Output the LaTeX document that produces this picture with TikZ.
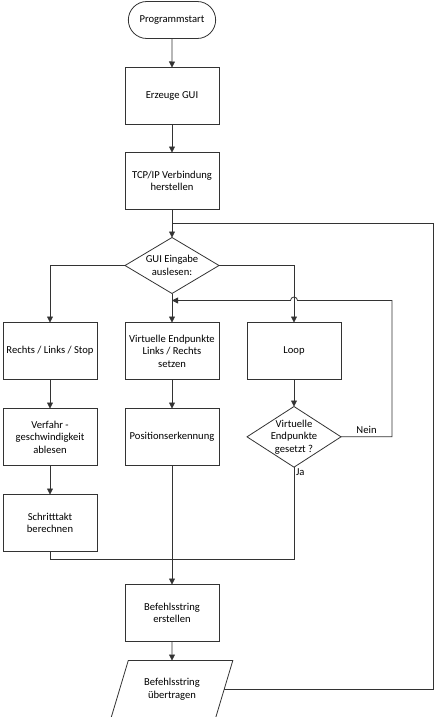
\documentclass[tikz,border=0pt]{standalone}
\usepackage{fontspec}
\setmainfont{Carlito}
\usetikzlibrary{positioning,shapes.geometric,shapes.misc,arrows.meta,calc}

\begin{document}
\begin{tikzpicture}[->,>={Triangle[length=6pt,width=6pt]},node distance=28pt,line width=0.8pt,color=black!80,
  every node/.style={font=\fontsize{10.6}{12.5}\selectfont,align=center,text=black,outer sep=0pt},
  proc/.style={rectangle,draw,minimum width=94pt,minimum height=57pt,inner sep=2pt},
  term/.style={rounded rectangle,draw,minimum width=94pt,minimum height=37pt},
  decision/.style={diamond,draw,minimum width=94pt,minimum height=56pt,inner sep=-5pt},
  io/.style={trapezium,trapezium left angle=63.4,trapezium right angle=116.6,trapezium stretches=true,draw,minimum width=122pt,minimum height=57pt,inner sep=0pt}]

    \path[use as bounding box] (0,0) rectangle (435pt,-717pt);

    % main column
    \node[term] (start) at (172pt,-20pt) {Programmstart};
    \node[proc] (gui) [below=29pt of start] {Erzeuge GUI};
    \node[proc] (tcp) [below=of gui] {TCP/IP Verbindung\\herstellen};
    \node[decision] (dec1) [below=of tcp] {GUI Eingabe\\auslesen:};
    \node[proc] (vep) [below=29pt of dec1] {Virtuelle Endpunkte\\Links / Rechts\\setzen};
    \node[proc] (pos) [below=29pt of vep] {Positionserkennung};
    \node[proc] (bse) [below=119pt of pos] {Befehlsstring\\erstellen};
    \node[io] (bsu) [below=19pt of bse] {Befehlsstring\\übertragen};

    % side columns
    \node[proc] (rl) [left=of vep] {Rechts / Links / Stop};
    \node[proc] (vg) [below=29pt of rl] {Verfahr -\\geschwindigkeit\\ablesen};
    \node[proc] (st) [below=29pt of vg] {Schritttakt\\berechnen};
    \node[proc] (loop) [right=of vep] {Loop};
    \node[decision,minimum height=60pt] (dec2) [below=27pt of loop] {Virtuelle\\Endpunkte\\gesetzt ?};

    \coordinate (top) at ([yshift=14pt]dec1.north);
    \coordinate (ret) at ([yshift=-7pt]dec1.south);
    \coordinate (merge) at ($(st.south -| pos.south)+(0,-8pt)$);

    \draw (start) -- (gui);
    \draw (gui) -- (tcp);
    \draw (tcp) -- (dec1);
    \draw (dec1.west) -| (rl);
    \draw (dec1) -- (vep);
    \draw (dec1.east) -| (loop);
    \draw (rl) -- (vg);
    \draw (vg) -- (st);
    \draw (vep) -- (pos);
    \draw (loop) -- (dec2);
    \draw (dec2.east) -- node[above,inner sep=3pt]{Nein} ++(51pt,0)
        |- ($(ret -| loop)+(3.5pt,0)$) arc[start angle=0,end angle=180,radius=3.5pt] -- (ret);
    \draw[-] (dec2.south) -- node[pos=0,anchor=north west,inner sep=2pt]{Ja} (dec2.south |- merge) -- (merge);
    \draw[-] (st.south) |- (merge);
    \draw (pos) -- (bse);
    \draw (bse) -- (bsu);
    \draw[-] (bsu.east) -| ([xshift=261pt]top) -- (top);

\end{tikzpicture}
\end{document}
